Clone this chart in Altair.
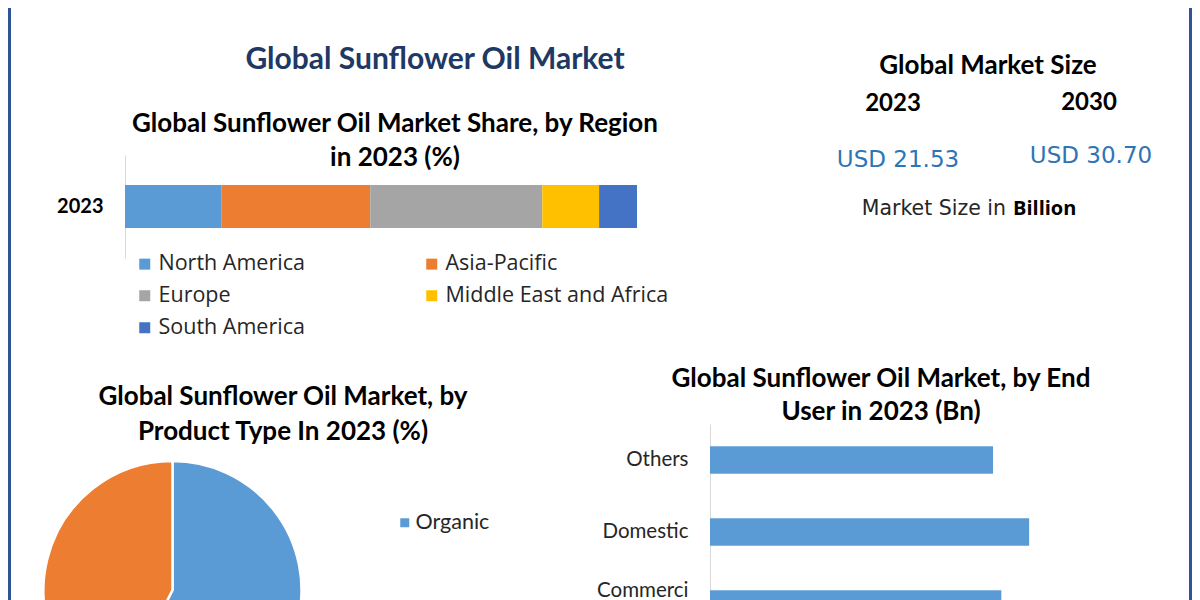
import altair as alt
import pandas as pd

# ---------------- data ----------------
regions = ["North America", "Asia-Pacific", "Europe", "Middle East and Africa", "South America"]
region_share = [18.8, 29.1, 33.6, 11.1, 7.4]
region_colors = ["#5b9bd5", "#ed7d31", "#a5a5a5", "#ffc000", "#4472c4"]
region_year = ["2023"]

product_types = ["Organic", "Conventional"]
product_share = [57.4, 42.6]
product_colors = ["#5b9bd5", "#ed7d31"]
product_legend_shown = ["Organic"]

end_users = ["Others", "Domestic", "Commercial"]
end_user_value = [6.82, 7.69, 7.02]

market_years = ["2023", "2030"]
market_values = [21.53, 30.70]

main_title = "Global Sunflower Oil Market"
region_title = ["Global Sunflower Oil Market Share, by Region", "in 2023 (%)"]
product_title = ["Global Sunflower Oil Market, by", "Product Type In 2023 (%)"]
end_title = ["Global Sunflower Oil Market, by End", "User in 2023 (Bn)"]
size_title = "Global Market Size"

W, H = 1184, 592
BORDER = "#2f5496"
EMPTY = alt.Data(values=[{}])


def txt(text, x, y, size, weight="normal", color="#000000", font="Lato",
        align="center", line_height=None):
    kw = dict(text=text, fontSize=size, fontWeight=weight, color=color, font=font,
              align=align, baseline="middle")
    if line_height:
        kw["lineHeight"] = line_height
    return alt.Chart(EMPTY).mark_text(**kw).encode(x=alt.value(x), y=alt.value(y))


# ---------------- borders ----------------
border_l = alt.Chart(EMPTY).mark_rule(color=BORDER, strokeWidth=3).encode(
    x=alt.value(1.5), y=alt.value(0), y2=alt.value(H))
border_r = alt.Chart(EMPTY).mark_rule(color=BORDER, strokeWidth=3).encode(
    x=alt.value(W - 1.5), y=alt.value(0), y2=alt.value(H))

# ---------------- region stacked bar ----------------
df_region = pd.DataFrame({
    "region": regions,
    "share": region_share,
    "order": list(range(len(regions))),
    "year": region_year * len(regions),
})
region_bar = alt.Chart(df_region).mark_bar().encode(
    x=alt.X("share:Q", stack="zero", scale=alt.Scale(domain=[0, 100], range=[117, 629]), axis=None),
    y=alt.Y("year:N", scale=alt.Scale(range=[147, 250], paddingInner=0, paddingOuter=0.7),
            axis=alt.Axis(orient="left", offset=-117, title=None, ticks=False, labelPadding=22,
                          labelFont="Lato", labelFontWeight="bold", labelFontSize=20,
                          labelColor="#000000", domainColor="#d9d9d9", domainWidth=1,
                          grid=False, labelAngle=0)),
    color=alt.Color("region:N", scale=alt.Scale(domain=regions, range=region_colors),
                    legend=alt.Legend(orient="none", legendX=126, legendY=245, columns=2,
                                      direction="horizontal",
                                      title=None, symbolType="square", symbolSize=121,
                                      symbolStrokeWidth=0, labelFont="Open Sans",
                                      labelFontSize=21.5, labelColor="#262626", labelLimit=400,
                                      rowPadding=9, columnPadding=116, padding=0,
                                      labelOffset=3)),
    order=alt.Order("order:Q"),
)

# ---------------- pie ----------------
df_prod = pd.DataFrame({"type": product_types, "share": product_share,
                        "order": list(range(len(product_types)))})
pie = alt.Chart(df_prod).mark_arc(radius=129, stroke="white", strokeWidth=2.5).encode(
    theta=alt.Theta("share:Q", stack=True),
    color=alt.Color("type:N", scale=alt.Scale(domain=product_types, range=product_colors),
                    legend=alt.Legend(orient="none", legendX=386, legendY=504, title=None,
                                      values=product_legend_shown,
                                      symbolType="square", symbolSize=81, symbolStrokeWidth=0,
                                      labelFont="Lato", labelFontSize=21.5, labelColor="#262626",
                                      padding=0, labelOffset=0)),
    order=alt.Order("order:Q"),
    x=alt.value(164.5),
    y=alt.value(582),
)

# ---------------- end-user bars ----------------
df_end = pd.DataFrame({"user": end_users, "value": end_user_value})
end_bar = alt.Chart(df_end).mark_bar(color="#5b9bd5").encode(
    x=alt.X("value:Q", scale=alt.Scale(domain=[0, 10], range=[702, 1117]), axis=None),
    y=alt.Y("user:N", sort=end_users,
            scale=alt.Scale(range=[416, 632], paddingInner=0.62, paddingOuter=0.31),
            axis=alt.Axis(orient="left", offset=-702, title=None, ticks=False, labelPadding=22,
                          labelFont="Lato", labelFontSize=20.5, labelColor="#262626",
                          domainColor="#d9d9d9", domainWidth=1, grid=False, labelAngle=0,
                          labelLineHeight=24,
                          labelExpr="datum.label == 'Commercial' ? ['Commerci', 'al'] : datum.label",
                          labelOffset={"condition": {"test": "datum.value === 'Commercial'",
                                                     "value": -13}, "value": 0})),
)

# ---------------- texts ----------------
texts = [
    txt(main_title, 427, 52, 30, "bold", "#203864"),
    txt(region_title, 387, 116, 26, "bold", line_height=34),
    txt(size_title, 980, 58, 26, "bold"),
    txt(market_years[0], 885, 96, 24, "bold"),
    txt(market_years[1], 1081, 95, 24, "bold"),
    txt(f"USD {market_values[0]:.2f}", 890, 152, 23, "normal", "#2e75b6", "DejaVu Sans"),
    txt(f"USD {market_values[1]:.2f}", 1083, 148, 23, "normal", "#2e75b6", "DejaVu Sans"),
    txt("Market Size in", 998, 201, 20.5, "normal", "#262626", "DejaVu Sans", align="right"),
    txt("Billion", 1005, 201, 20, "bold", "#000000", "Open Sans", align="left"),
    txt(product_title, 275, 389, 26, "bold", line_height=35),
    txt(end_title, 873, 370.5, 26, "bold", line_height=33),
]

chart = alt.layer(border_l, border_r, region_bar, pie, end_bar, *texts).resolve_scale(
    x="independent", y="independent", color="independent", theta="independent"
).properties(
    width=W, height=H, padding=0, autosize=alt.AutoSizeParams(type="none"),
    background="white",
).configure_view(stroke=None)

chart.save("out.html", embed_options={"renderer": "svg", "actions": False})
